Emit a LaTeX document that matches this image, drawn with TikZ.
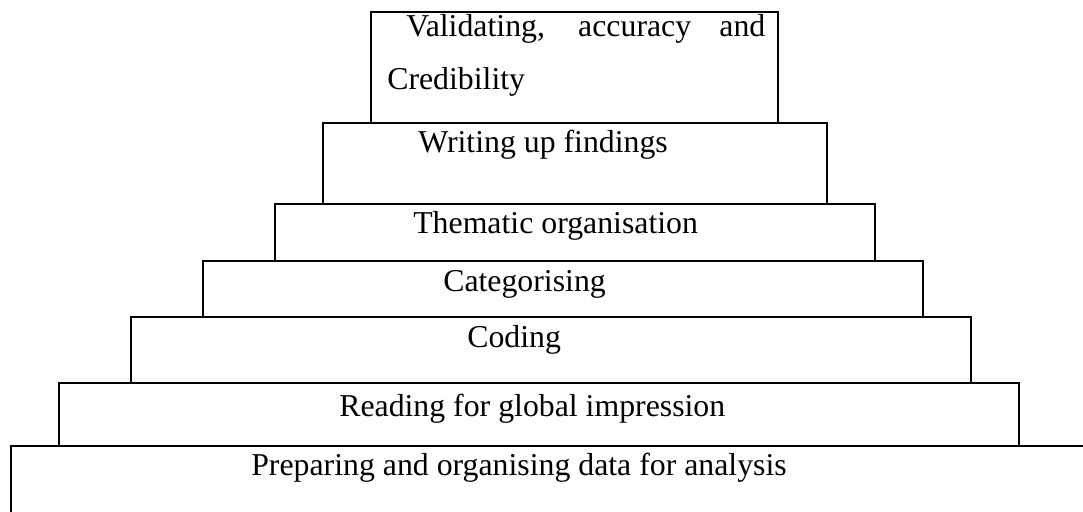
\documentclass[tikz,border=0pt]{standalone}
\usepackage{fontspec}
\setmainfont{Liberation Serif}
\begin{document}
\begin{tikzpicture}[x=0.5pt,y=-0.5pt,line width=1.3pt,
    lbl/.style={anchor=base west,inner sep=0pt,font=\fontsize{15.9}{26.5}\selectfont}]
        % 描画範囲
        \useasboundingbox (0,0) rectangle (1083,511);
        \clip (0,0) rectangle (1083,511);
        % 最下段（はみ出す）
        \draw (11,446) rectangle (1100,540);
        % 二段目から上の長方形
        \draw (59,383) rectangle (1019,446);
        \draw (131,317) rectangle (971,383);
        \draw (203,261) rectangle (923,317);
        \draw (275,204) rectangle (875,261);
        \draw (323,123) rectangle (827,204);
        \draw (371,12) rectangle (778,123);
        % 各段の文字
        \node[lbl] (valid) at (405,36) {\makebox[179.5pt][s]{Validating, accuracy and}};
        \node[lbl] (cred) at (386,89) {Credibility};
        \node[lbl] (write) at (417,152) {Writing up findings};
        \node[lbl] (theme) at (412,233) {Thematic organisation};
        \node[lbl] (categ) at (442,291) {Categorising};
        \node[lbl] (coding) at (466,347) {Coding};
        \node[lbl] (reading) at (338,416) {Reading for global impression};
        \node[lbl] (prep) at (250,475) {Preparing and organising data for analysis};
      \end{tikzpicture}
\end{document}
